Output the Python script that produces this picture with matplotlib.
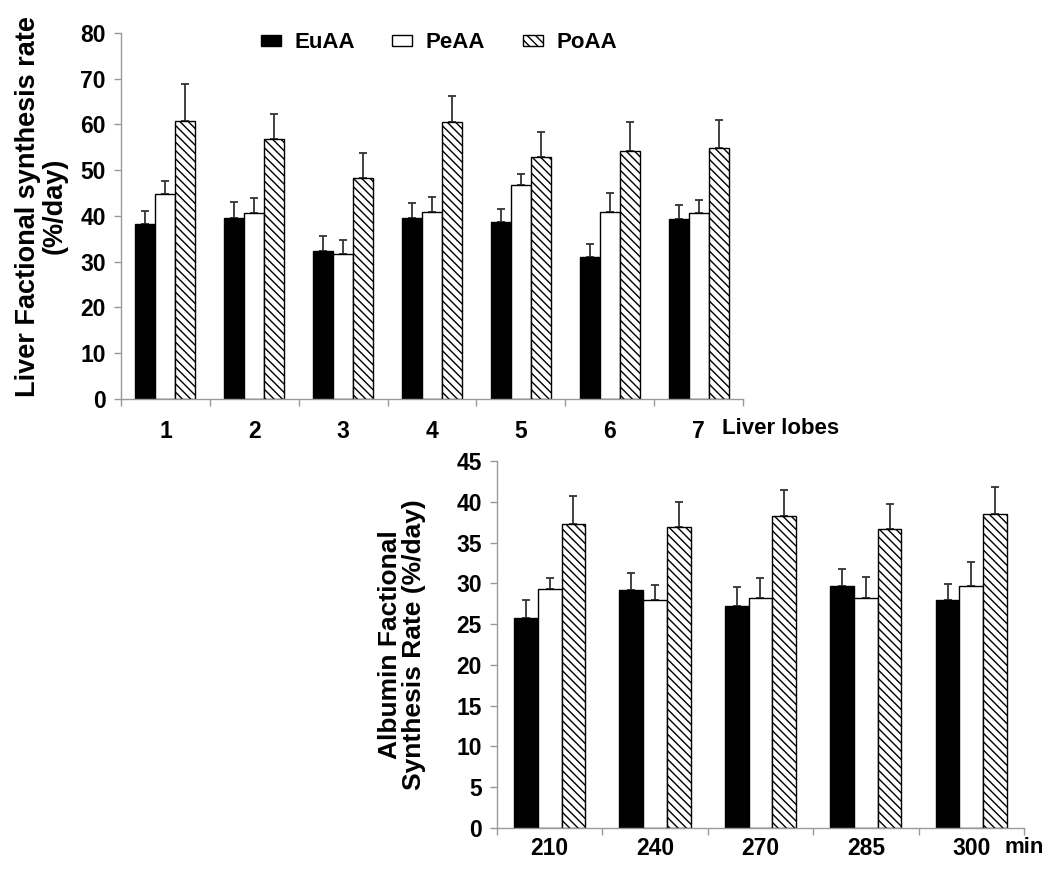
import numpy as np
import matplotlib
matplotlib.use("Agg")
import matplotlib.pyplot as plt

plt.rcParams['font.family'] = ['Liberation Sans', 'DejaVu Sans']
plt.rcParams['font.weight'] = 'bold'
plt.rcParams['hatch.linewidth'] = 1.0

groups = ['EuAA', 'PeAA', 'PoAA']

# liver lobes panel
lobes = ['1', '2', '3', '4', '5', '6', '7']
liver_eu = [38.3, 39.6, 32.4, 39.6, 38.6, 31.0, 39.3]
liver_eu_err = [2.8, 3.4, 3.2, 3.2, 3.0, 2.8, 3.2]
liver_pe = [44.7, 40.7, 31.6, 40.9, 46.7, 40.9, 40.7]
liver_pe_err = [2.9, 3.3, 3.2, 3.3, 2.5, 4.1, 2.7]
liver_po = [60.8, 56.8, 48.2, 60.5, 52.9, 54.3, 54.8]
liver_po_err = [8.1, 5.4, 5.5, 5.7, 5.5, 6.2, 6.2]

# albumin panel
times = ['210', '240', '270', '285', '300']
alb_eu = [25.8, 29.2, 27.2, 29.7, 28.0]
alb_eu_err = [2.1, 2.0, 2.4, 2.0, 1.9]
alb_pe = [29.3, 28.0, 28.2, 28.2, 29.7]
alb_pe_err = [1.4, 1.8, 2.4, 2.6, 2.9]
alb_po = [37.3, 36.9, 38.3, 36.7, 38.5]
alb_po_err = [3.4, 3.1, 3.1, 3.0, 3.3]

faces = ['black', 'white', 'white']
hatches = [None, None, '\\\\\\\\']


def draw_panel(ax, labels, series, errs, ymax, ystep):
    x = np.arange(len(labels))
    w = 0.225
    bars = []
    for i, (vals, err) in enumerate(zip(series, errs)):
        pos = x + (i - 1) * w
        b = ax.bar(pos, vals, width=w, color=faces[i], edgecolor='black',
                   linewidth=1.0, hatch=hatches[i], label=groups[i], zorder=2)
        ax.errorbar(pos, vals, yerr=[np.zeros(len(vals)), err], fmt='none',
                    ecolor='#333333', elinewidth=1.3, capsize=3, capthick=1.3, zorder=1)
        bars.append(b)
    ax.set_xlim(-0.5, len(labels) - 0.5)
    ax.set_ylim(0, ymax)
    ax.set_yticks(np.arange(0, ymax + 1, ystep))
    ax.set_xticks(np.arange(len(labels) + 1) - 0.5)
    ax.set_xticklabels([])
    ax.set_xticks(x, minor=True)
    ax.set_xticklabels(labels, minor=True)
    ax.tick_params(axis='x', which='minor', length=0, labelsize=16.5)
    ax.tick_params(axis='x', which='major', length=5, color='#999999', width=1)
    ax.tick_params(axis='y', length=5, color='#999999', width=1, labelsize=16.5, pad=6)
    for s in ['top', 'right']:
        ax.spines[s].set_visible(False)
    for s in ['left', 'bottom']:
        ax.spines[s].set_color('#999999')
        ax.spines[s].set_linewidth(1)
    return bars


fig = plt.figure(figsize=(10.5, 8.75), dpi=100)

ax1 = fig.add_axes([0.1152, 0.544, 0.5924, 0.4183])
bars = draw_panel(ax1, lobes, [liver_eu, liver_pe, liver_po],
                  [liver_eu_err, liver_pe_err, liver_po_err], 80, 10)
ax1.tick_params(axis='x', which='minor', pad=15)
ax1.set_ylabel('Liver Factional synthesis rate\n(%/day)', fontsize=19.5,
               fontweight='bold', linespacing=1.0)
ax1.yaxis.set_label_coords(-0.086, 0.527)
ax1.text(6.26, -0.08, 'Liver lobes', transform=ax1.get_xaxis_transform(),
         fontsize=16, fontweight='bold', ha='left', va='center')

ax2 = fig.add_axes([0.4733, 0.054, 0.5019, 0.4191])
draw_panel(ax2, times, [alb_eu, alb_pe, alb_po],
           [alb_eu_err, alb_pe_err, alb_po_err], 45, 5)
ax2.tick_params(axis='x', which='minor', pad=7)
ax2.set_ylabel('Albumin Factional\nSynthesis Rate (%/day)', fontsize=19,
               fontweight='bold', labelpad=22, linespacing=1.0)
ax2.text(4.32, -0.055, 'min', transform=ax2.get_xaxis_transform(),
         fontsize=16, fontweight='bold', ha='left', va='center')

fig.legend(handles=bars, labels=groups, loc='center', bbox_to_anchor=(0.418, 0.951),
           ncol=3, frameon=False, fontsize=16, handlelength=0.9, handleheight=0.35,
           handletextpad=0.6, columnspacing=1.7)

fig.savefig('out.png', dpi=100)
